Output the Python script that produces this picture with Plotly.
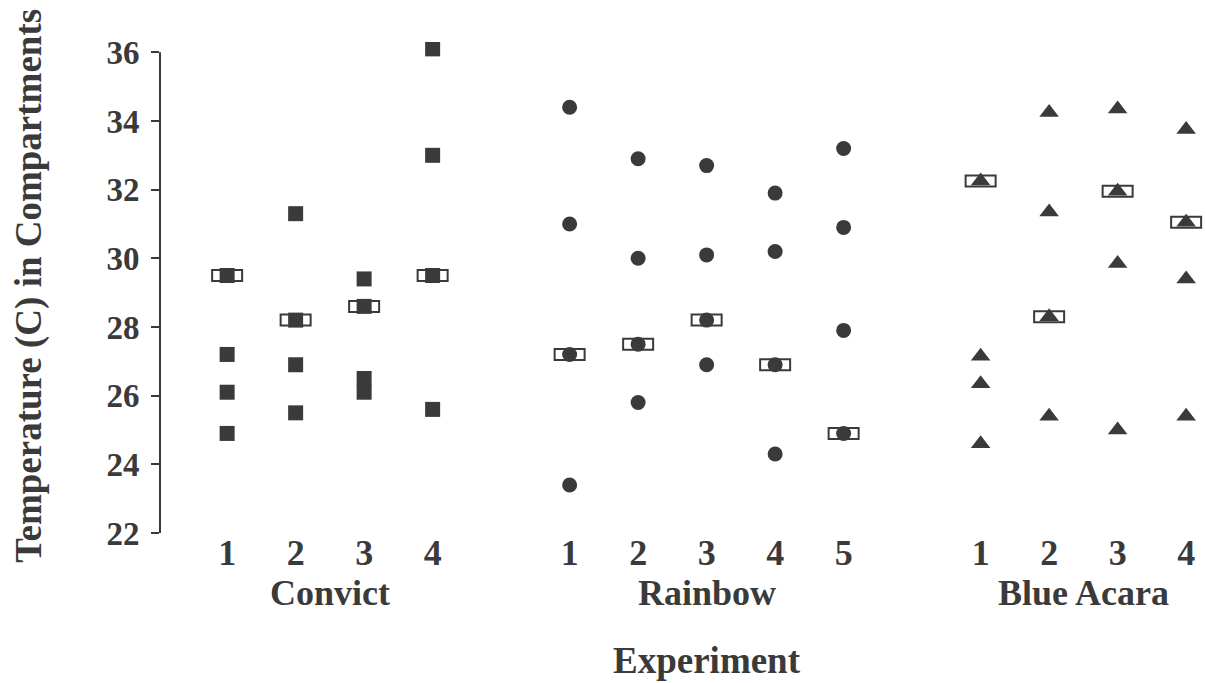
import plotly.graph_objects as go

# ---- data ----
groups = ["Convict", "Rainbow", "Blue Acara"]
group_markers = ["square", "circle", "triangle-up"]
group_marker_sizes = [15, 15, 17]

convict_vals = [[29.5, 27.2, 26.1, 24.9],
                [31.3, 28.2, 26.9, 25.5],
                [29.4, 28.6, 26.5, 26.1],
                [36.1, 33.0, 29.5, 25.6]]
convict_marked = [29.5, 28.2, 28.6, 29.5]

rainbow_vals = [[34.4, 31.0, 27.2, 23.4],
                [32.9, 30.0, 27.5, 25.8],
                [32.7, 30.1, 28.2, 26.9],
                [31.9, 30.2, 26.9, 24.3],
                [33.2, 30.9, 27.9, 24.9]]
rainbow_marked = [27.2, 27.5, 28.2, 26.9, 24.9]

blue_acara_vals = [[32.25, 27.15, 26.35, 24.6],
                   [34.25, 31.35, 28.3, 25.4],
                   [34.35, 31.95, 29.85, 25.0],
                   [33.75, 31.05, 29.4, 25.4]]
blue_acara_marked = [32.25, 28.3, 31.95, 31.05]

y_ticks = [22, 24, 26, 28, 30, 32, 34, 36]
y_min, y_max = 22, 36

all_vals = [convict_vals, rainbow_vals, blue_acara_vals]
all_marked = [convict_marked, rainbow_marked, blue_acara_marked]

INK = "#3a3a3a"
FONT = "Liberation Serif"

fig = go.Figure()
shapes = []
annotations = []
tickvals, ticktext = [], []

# y axis line spanning exactly the tick range
shapes.append(dict(type="line", xref="paper", yref="y", x0=0, x1=0,
                   y0=y_min, y1=y_max, line=dict(color=INK, width=2)))

start = 0
for g, name in enumerate(groups):
    vals = all_vals[g]
    xs, ys = [], []
    for i, col in enumerate(vals):
        pos = start + i
        tickvals.append(pos)
        ticktext.append(str(i + 1))
        for v in col:
            xs.append(pos)
            ys.append(v)
        # open rectangle marking the highlighted value
        shapes.append(dict(type="rect", xref="x", yref="y",
                           xsizemode="pixel", ysizemode="pixel",
                           xanchor=pos, yanchor=all_marked[g][i],
                           x0=-15, x1=15, y0=-5.5, y1=5.5,
                           fillcolor="white", line=dict(color=INK, width=2),
                           layer="below"))
    fig.add_trace(go.Scatter(x=xs, y=ys, mode="markers", name=name,
                             marker=dict(symbol=group_markers[g],
                                         size=group_marker_sizes[g],
                                         color=INK, line=dict(width=0)),
                             showlegend=False))
    center = start + (len(vals) - 1) / 2
    annotations.append(dict(text=name, x=center, xref="x", y=-0.122, yref="paper",
                            yanchor="middle", xanchor="center", showarrow=False,
                            font=dict(family=FONT, size=36, color=INK, weight="bold")))
    start += len(vals) + 1

annotations.append(dict(text="Experiment", x=7, xref="x", y=-0.259, yref="paper",
                        yanchor="middle", xanchor="center", showarrow=False,
                        font=dict(family=FONT, size=37, color=INK, weight="bold")))
annotations.append(dict(text="Temperature (C) in Compartments", x=-0.126, xref="paper",
                        y=0.504, yref="paper", textangle=-90,
                        xanchor="center", yanchor="middle", showarrow=False,
                        font=dict(family=FONT, size=37, color=INK, weight="bold")))

fig.update_layout(
    width=1206, height=683,
    margin=dict(l=160, r=0, t=42, b=150),
    paper_bgcolor="white", plot_bgcolor="white",
    shapes=shapes, annotations=annotations,
    xaxis=dict(range=[-0.98, 14.29], tickvals=tickvals, ticktext=ticktext,
               showgrid=False, zeroline=False, showline=False, ticks="",
               ticklabelstandoff=-5,
               tickfont=dict(family=FONT, size=36, color=INK, weight="bold"),
               fixedrange=True),
    yaxis=dict(range=[y_min, 36.3], tickvals=y_ticks, showgrid=False, zeroline=False,
               showline=False,
               ticks="outside", ticklen=8, tickwidth=2, tickcolor=INK,
               ticklabelstandoff=5,
               tickfont=dict(family=FONT, size=33, color=INK, weight="bold"),
               fixedrange=True),
)

fig.write_html("out.html", config={"displayModeBar": False},
               post_script="document.body.style.margin='0';")
